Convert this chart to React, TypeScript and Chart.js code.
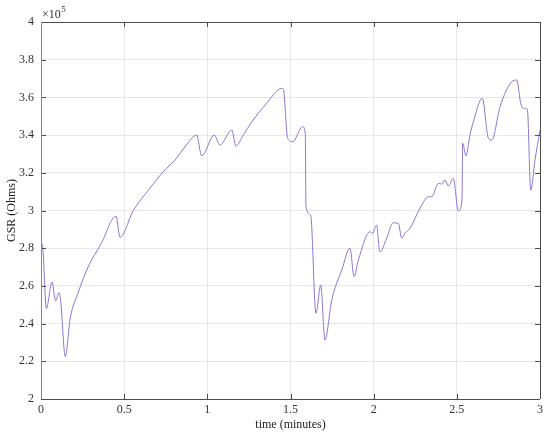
import React, { useEffect, useRef } from "react";
import { Chart, registerables } from "chart.js";

Chart.register(...registerables);

const timeMin = [
  0.0, 0.01, 0.032, 0.066, 0.088, 0.108, 0.118, 0.146, 0.176, 0.222, 0.283, 0.363, 0.451, 0.475,
  0.555, 0.655, 0.735, 0.806, 0.866, 0.936, 0.966, 1.042, 1.076, 1.147, 1.172, 1.216, 1.267,
  1.357, 1.447, 1.457, 1.483, 1.513, 1.573, 1.589, 1.593, 1.621, 1.653, 1.682, 1.707, 1.748,
  1.808, 1.858, 1.882, 1.908, 1.978, 1.994, 2.017, 2.038, 2.078, 2.118, 2.148, 2.169, 2.188,
  2.218, 2.279, 2.329, 2.349, 2.389, 2.409, 2.429, 2.449, 2.479, 2.509, 2.531, 2.535, 2.555,
  2.579, 2.599, 2.653, 2.69, 2.71, 2.76, 2.83, 2.86, 2.884, 2.9, 2.924, 2.944, 2.97, 3.0,
];

// GSR in units of 1e5 Ohms
const gsr = [
  2.83, 2.81, 2.48, 2.62, 2.52, 2.565, 2.525, 2.225, 2.43, 2.56, 2.7, 2.826, 2.97, 2.858,
  3.0, 3.118, 3.206, 3.268, 3.338, 3.4, 3.29, 3.4, 3.347, 3.427, 3.342, 3.4, 3.47,
  3.569, 3.648, 3.643, 3.383, 3.365, 3.445, 3.41, 3.02, 2.976, 2.455, 2.605, 2.313, 2.525,
  2.684, 2.8, 2.649, 2.737, 2.887, 2.879, 2.923, 2.78, 2.853, 2.935, 2.932, 2.853, 2.879,
  2.906, 3.012, 3.073, 3.073, 3.144, 3.14, 3.162, 3.13, 3.171, 2.997, 3.056, 3.357, 3.29,
  3.4, 3.47, 3.595, 3.383, 3.374, 3.551, 3.683, 3.692, 3.569, 3.542, 3.537, 3.109, 3.268, 3.427,
];

const xTicks = [0, 0.5, 1, 1.5, 2, 2.5, 3];
const yTicks = [2, 2.2, 2.4, 2.6, 2.8, 3, 3.2, 3.4, 3.6, 3.8, 4];

const LINE = "#8d76d2";
const AXIS = "#4d4d4d";
const FONT = "'Liberation Serif', 'Times New Roman', serif";

const boxPlugin = {
  id: "box",
  afterDraw(chart: any) {
    const { ctx, chartArea } = chart;
    const { left, right, top, bottom } = chartArea;
    const xs = chart.scales.x;
    const ys = chart.scales.y;
    ctx.save();
    ctx.strokeStyle = AXIS;
    ctx.lineWidth = 1;
    ctx.beginPath();
    ctx.moveTo(left, top + 0.5);
    ctx.lineTo(right, top + 0.5);
    ctx.moveTo(right + 0.5, top);
    ctx.lineTo(right + 0.5, bottom);
    ctx.moveTo(left, bottom + 0.5);
    ctx.lineTo(right, bottom + 0.5);
    const tl = 5;
    xTicks.forEach((t) => {
      const px = Math.round(xs.getPixelForValue(t)) + 0.5;
      ctx.moveTo(px, bottom);
      ctx.lineTo(px, bottom - tl);
      ctx.moveTo(px, top);
      ctx.lineTo(px, top + tl);
    });
    yTicks.forEach((t) => {
      const py = Math.round(ys.getPixelForValue(t)) + 0.5;
      ctx.moveTo(left, py);
      ctx.lineTo(left + tl, py);
      ctx.moveTo(right, py);
      ctx.lineTo(right - tl, py);
    });
    ctx.stroke();
    ctx.strokeStyle = LINE;
    ctx.beginPath();
    ctx.moveTo(left + 0.5, top);
    ctx.lineTo(left + 0.5, bottom);
    ctx.stroke();
    ctx.fillStyle = "#333";
    ctx.font = `12px ${FONT}`;
    ctx.textBaseline = "alphabetic";
    ctx.textAlign = "left";
    ctx.fillText("\u00d710", left + 1, top - 4);
    const w = ctx.measureText("\u00d710").width;
    ctx.font = `9px ${FONT}`;
    ctx.fillText("5", left + 1 + w + 0.5, top - 10);
    ctx.restore();
  },
};

export default function App() {
  const ref = useRef<HTMLCanvasElement | null>(null);
  useEffect(() => {
    if (!ref.current) return;
    const pts = timeMin.map((t, i) => ({ x: t, y: gsr[i] }));
    const chart = new Chart(ref.current, {
      type: "line",
      data: {
        datasets: [
          {
            data: pts,
            borderColor: LINE,
            borderWidth: 1,
            pointRadius: 0,
            cubicInterpolationMode: "monotone",
            fill: false,
          },
        ],
      },
      options: {
        animation: false,
        responsive: false,
        maintainAspectRatio: false,
        layout: { padding: { left: 0, right: 10, top: 22, bottom: 0 } },
        plugins: { legend: { display: false }, tooltip: { enabled: false } },
        scales: {
          x: {
            type: "linear",
            min: 0,
            max: 3,
            afterBuildTicks: (s: any) => {
              s.ticks = xTicks.map((v) => ({ value: v }));
            },
            afterFit: (s: any) => {
              s.height = 39;
            },
            grid: { color: "#e8e8e8", drawTicks: false },
            border: { display: false },
            ticks: {
              color: "#333",
              padding: 4,
              maxRotation: 0,
              font: { family: FONT, size: 12 },
              callback: (v: any) => String(Math.round(Number(v) * 10) / 10),
            },
            title: {
              display: true,
              text: "time (minutes)",
              color: "#222",
              font: { family: FONT, size: 12 },
              padding: { top: 0, bottom: 6 },
            },
          },
          y: {
            type: "linear",
            min: 2,
            max: 4,
            afterBuildTicks: (s: any) => {
              s.ticks = yTicks.map((v) => ({ value: v }));
            },
            afterFit: (s: any) => {
              s.width = 41;
            },
            grid: { color: "#e8e8e8", drawTicks: false },
            border: { display: false },
            ticks: {
              color: "#333",
              padding: 7,
              font: { family: FONT, size: 12 },
              callback: (v: any) => String(Math.round(Number(v) * 10) / 10),
            },
            title: {
              display: true,
              text: "GSR (Ohms)",
              color: "#222",
              font: { family: FONT, size: 12 },
              padding: { top: 5, bottom: 0 },
            },
          },
        },
      },
      plugins: [boxPlugin],
    });
    return () => chart.destroy();
  }, []);
  return (
    <div style={{ position: "absolute", left: 0, top: 0, width: 550, height: 438, background: "#fff" }}>
      <canvas ref={ref} width={550} height={438} style={{ display: "block" }} />
    </div>
  );
}
